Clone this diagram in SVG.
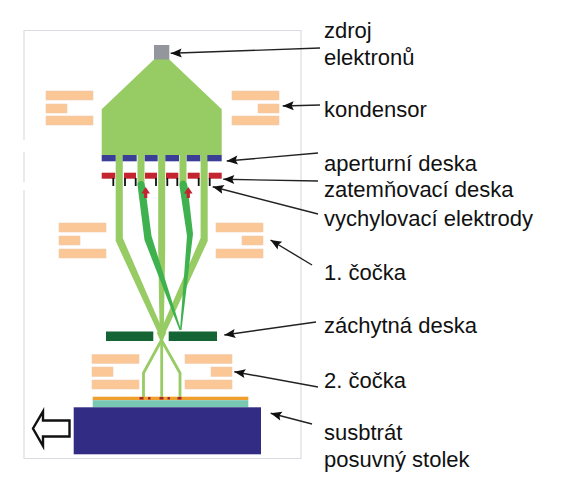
<svg xmlns="http://www.w3.org/2000/svg" width="563" height="488" viewBox="0 0 563 488">
<defs>
<marker id="ah" markerUnits="userSpaceOnUse" markerWidth="13" markerHeight="11" refX="0" refY="5" orient="auto"><path d="M0 5L11 0.500L9 5L11 9.500Z" fill="#111"/></marker>
</defs>
<style>
.lens{fill:#fbc796;stroke:#f0cdb0;stroke-width:.6}
.beam{fill:#97cb63}
.thin{fill:none;stroke:#97cb63;stroke-linejoin:round}
.defl{fill:#3fb24f}
.ap{fill:#3a3e96}
.bl{fill:#c4242f}
.el{fill:none;stroke:#111;stroke-width:1.8}
.lbl{font-family:"Liberation Sans",Arial,sans-serif;font-size:22px;fill:#111}
.con{stroke:#222;stroke-width:1.4;fill:none;marker-start:url(#ah)}
</style>
<path id="frame" d="M24 140V30.500H301V458.500H24V190M24 152V182" fill="#fff" stroke="#dcdde3" stroke-width="1.2"/>
<g id="condenser-lens"><rect class="lens" x="46" y="91" width="47" height="9"/><rect class="lens" x="46" y="104" width="21" height="9"/><rect class="lens" x="46" y="116" width="47" height="9"/><rect class="lens" x="232" y="91" width="47" height="9"/><rect class="lens" x="258" y="104" width="21" height="9"/><rect class="lens" x="232" y="116" width="47" height="9"/></g>
<g id="lens-1"><rect class="lens" x="59" y="223" width="47" height="9"/><rect class="lens" x="59" y="236" width="21" height="9"/><rect class="lens" x="59" y="249" width="47" height="9"/><rect class="lens" x="216" y="223" width="47" height="9"/><rect class="lens" x="242" y="236" width="21" height="9"/><rect class="lens" x="216" y="249" width="47" height="9"/></g>
<g id="lens-2"><rect class="lens" x="92" y="354.500" width="47" height="9"/><rect class="lens" x="92" y="367" width="21" height="9.500"/><rect class="lens" x="92" y="380" width="47" height="9"/><rect class="lens" x="185" y="354.500" width="47" height="9"/><rect class="lens" x="211" y="367" width="21" height="9.500"/><rect class="lens" x="185" y="380" width="47" height="9"/></g>
<g id="beams">
<path class="beam" d="M158.200 155H165.200V250L163.700 336H159.700L158.200 250Z"/>
<path class="beam" d="M115.700 155H122.800V238L163.500 332L160.500 338L115.700 241Z"/>
<path class="beam" d="M200.600 155H207.700V241L163 338L160 332L200.600 238Z"/>
<rect class="beam" x="137.500" y="155" width="7" height="30"/>
<rect class="beam" x="179.500" y="155" width="7" height="30"/>
<path class="defl" d="M137.500 185Q137.500 181 141 181Q144.500 181 145 186L151.500 236L181 330H179.500L144.500 240Z"/>
<path class="defl" d="M179.500 186Q179.500 180.500 183 180.500Q186.500 180.500 187.500 186L193 234L181.500 330H180L187 236Z"/>
<path class="thin" stroke-width="2.800" d="M158 332L162 341L180 373V398"/>
<path class="thin" stroke-width="2.800" d="M165 332L161 341L143.500 373V398"/>
<path class="thin" stroke-width="2.800" d="M161.700 332V398"/>
</g>
<g id="source"><rect x="154" y="45" width="15.300" height="15" fill="#93979c"/></g>
<g id="condenser-beam"><path d="M154 59.500H169.300L221.700 109.300V155H101.700V109.300Z" fill="#97cb63"/></g>
<g id="aperture-plate"><rect class="ap" x="101.700" y="155" width="14" height="6.300"/><rect class="ap" x="122.700" y="155" width="14" height="6.300"/><rect class="ap" x="144.700" y="155" width="13" height="6.300"/><rect class="ap" x="165.300" y="155" width="13.700" height="6.300"/><rect class="ap" x="186.700" y="155" width="13.600" height="6.300"/><rect class="ap" x="207.300" y="155" width="14.400" height="6.300"/></g>
<g id="blanking-plate"><rect class="bl" x="101.700" y="172.700" width="13.500" height="6"/><rect class="bl" x="124" y="172.700" width="12" height="6"/><rect class="bl" x="145" y="172.700" width="12" height="6"/><rect class="bl" x="166" y="172.700" width="12.300" height="6"/><rect class="bl" x="187.700" y="172.700" width="12" height="6"/><rect class="bl" x="208.700" y="172.700" width="13" height="6"/></g>
<g id="electrodes"><path class="el" d="M113.300 178V186M125 178V186M135.700 178V186M156 178V186M167.300 178V186M177.300 178V186M198.700 178V186M209.700 178V186"/></g>
<g id="red-arrows" fill="#c4242f"><path d="M145.700 187L150 193.500H147.300V198H144.100V193.500H141.400Z"/><path d="M188.300 187L192.600 193.500H189.900V198H186.700V193.500H184Z"/></g>
<g id="stop-plate"><rect x="106" y="331.500" width="47.300" height="9.500" fill="#156534"/><rect x="168.700" y="331.500" width="48.300" height="9.500" fill="#156534"/></g>
<g id="substrate"><rect x="92.700" y="396.700" width="155.600" height="3.500" fill="#ee9f2d"/><rect x="92.700" y="400.200" width="155.600" height="7.200" fill="#79c8b4"/><path d="M139.500 398.300h4M148 398.300h2.500M159.500 398.300h4M167.500 398.300h2.500M177.500 398.300h4" stroke="#a8242f" stroke-width="2.500"/></g>
<g id="stage"><rect x="73.700" y="407.300" width="187.300" height="47" fill="#332c85"/></g>
<g id="move-arrow"><path d="M69.500 420.500V436.500H43V446L33 428.500L43 411.500V420.500Z" fill="#fff" stroke="#111" stroke-width="2.400"/></g>
<g id="connectors">
<path class="con" d="M170.700 53.300L320 48"/>
<path class="con" d="M282.700 106L320 105"/>
<path class="con" d="M226.700 161L318 153"/>
<path class="con" d="M223.300 179.300L318 181"/>
<path class="con" d="M212.700 186.700L318 214"/>
<path class="con" d="M270.500 240L312 265"/>
<path class="con" d="M224.300 335L316 322"/>
<path class="con" d="M234.300 371.700L318 387"/>
<path class="con" d="M270.700 413.300L312 424"/>
</g>
<g id="labels">
<text class="lbl" x="324" y="38">zdroj</text><text class="lbl" x="324" y="65">elektronů</text>
<text class="lbl" x="324" y="117">kondensor</text>
<text class="lbl" x="324" y="171">aperturní deska</text>
<text class="lbl" x="324" y="197">zatemňovací deska</text>
<text class="lbl" x="324" y="226">vychylovací elektrody</text>
<text class="lbl" x="324" y="280">1. čočka</text>
<text class="lbl" x="324" y="333">záchytná deska</text>
<text class="lbl" x="324" y="388">2. čočka</text>
<text class="lbl" x="324" y="440">susbtrát</text><text class="lbl" x="324" y="467">posuvný stolek</text>
</g>
</svg>
